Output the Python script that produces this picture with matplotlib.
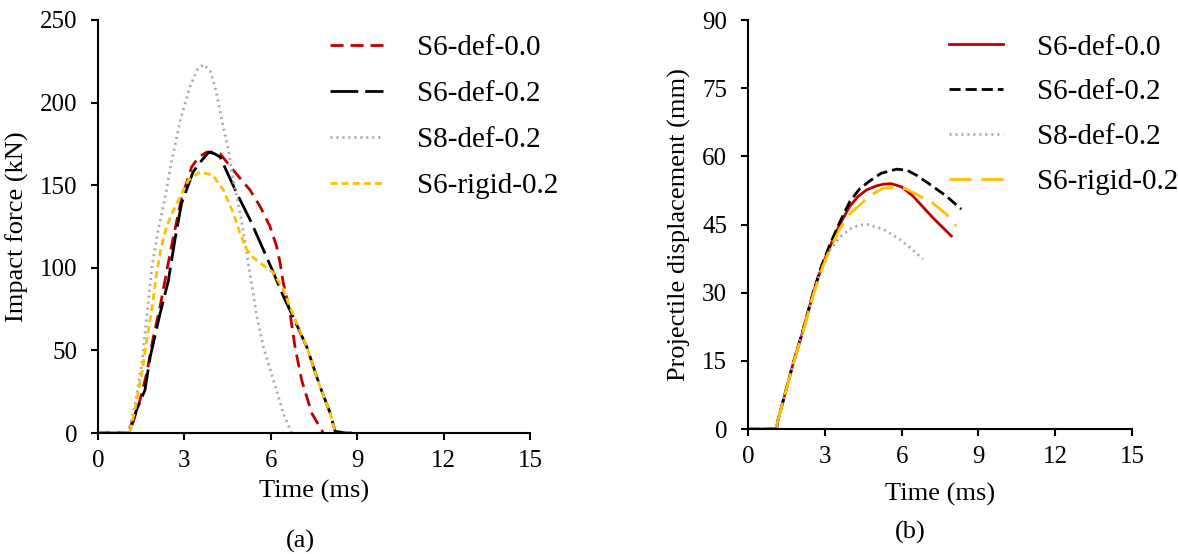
import numpy as np
import matplotlib
matplotlib.use("Agg")
import matplotlib.pyplot as plt

plt.rcParams['font.family'] = ['Liberation Serif', 'DejaVu Serif']
plt.rcParams['lines.scale_dashes'] = False

labels = ["S6-def-0.0", "S6-def-0.2", "S8-def-0.2", "S6-rigid-0.2"]

# (a) impact force: time (ms), force (kN)
t_f_s6_00 = [0, 1.1, 1.46, 1.69, 1.92, 2.15, 2.44, 2.62, 2.9, 3.25, 3.5, 3.77, 4.0, 4.24,
             4.7, 5.28, 5.63, 5.97, 6.2, 6.32, 6.43, 6.55, 6.67, 6.84, 7.07, 7.42, 7.82]
f_s6_00 = [0, 0, 20, 36, 58, 76, 103, 119, 142, 161, 167, 170, 170, 169,
           159, 147, 137, 125, 113, 103, 91, 82, 72, 52, 32, 12, 0]
t_f_s6_02 = [0, 1.05, 1.34, 1.63, 1.81, 2.15, 2.44, 2.67, 2.9, 3.3, 3.6, 3.85, 4.05, 4.24,
             4.82, 5.28, 5.74, 6.09, 6.43, 6.78, 7.25, 7.71, 8.06, 8.23, 8.6, 9.0]
f_s6_02 = [0, 0, 14, 26, 46, 72, 92, 117, 139, 158, 165, 170, 169, 167,
           145, 129, 111, 97, 83, 70, 52, 28, 12, 1, 0, 0]
t_f_s8_02 = [0, 1.05, 1.3, 1.52, 1.69, 1.86, 2.09, 2.3, 2.56, 2.88, 3.2, 3.45, 3.66, 3.9,
             4.1, 4.29, 4.53, 4.7, 4.99, 5.28, 5.51, 5.74, 6.09, 6.43, 6.72]
f_s8_02 = [0, 0, 18, 42, 70, 99, 123, 140, 165, 191, 210, 220, 223, 219,
           207, 190, 171, 153, 128, 96, 71, 52, 32, 12, 0]
t_f_rig = [0, 1.1, 1.28, 1.52, 1.69, 1.86, 2.04, 2.2, 2.4, 2.6, 2.85, 3.14, 3.54, 3.99,
           4.35, 4.7, 4.93, 5.16, 5.4, 5.63, 6.09, 6.43, 6.67, 7.25, 7.71, 8.06, 8.24]
f_rig = [0, 0, 14, 36, 56, 74, 97, 113, 126, 134, 143, 153, 158, 156,
         147, 133, 121, 111, 106, 103, 97, 87, 76, 52, 28, 12, 0]

# (b) projectile displacement: time (ms), displacement (mm)
t_d_s6_00 = [0, 1.12, 1.15, 1.76, 2.15, 2.54, 2.87, 3.19, 3.58, 3.97, 4.3, 4.62, 5.0, 5.3,
             5.6, 6.0, 6.44, 7.22, 7.94]
d_s6_00 = [0, 0, 1.5, 14.4, 21.7, 29.8, 35.6, 40.0, 45.0, 49.0, 51.2, 52.6, 53.5, 53.9,
           54.0, 53.3, 51.3, 46.5, 42.5]
t_d_s6_02 = [0, 1.12, 1.15, 1.76, 2.15, 2.54, 2.87, 3.19, 3.58, 3.97, 4.35, 4.75, 5.2, 5.8,
             6.2, 6.6, 7.09, 7.74, 8.33]
d_s6_02 = [0, 0, 1.5, 14.4, 21.8, 30.0, 35.9, 40.5, 45.5, 50.0, 52.8, 54.6, 56.3, 57.2,
           57.0, 55.8, 53.9, 51.3, 48.4]
t_d_s8_02 = [0, 1.12, 1.15, 1.76, 2.15, 2.54, 2.87, 3.19, 3.58, 3.97, 4.3, 4.62, 5.27,
             5.92, 6.4, 6.83]
d_s8_02 = [0, 0, 1.5, 14.4, 21.7, 29.6, 35.2, 39.3, 42.2, 44.0, 44.8, 45.1, 44.0,
           41.8, 39.6, 37.4]
t_d_rig = [0, 1.12, 1.15, 1.76, 2.15, 2.54, 2.87, 3.19, 3.58, 3.97, 4.36, 4.8, 5.27, 5.8,
           6.2, 6.57, 7.2, 7.74, 8.13]
d_rig = [0, 0, 1.5, 14.2, 21.4, 29.4, 35.0, 39.5, 44.0, 47.3, 49.3, 51.5, 53.0, 53.3,
         52.8, 51.7, 49.8, 47.3, 44.7]

RED = "#C00000"
GRAY = "#ABABAB"
YEL = "#FFC000"
LW = 2.0
DOTS = (1.5, 2.8)

fig = plt.figure(figsize=(11.78, 5.54), dpi=100)
ax1 = fig.add_axes([0.0832, 0.2184, 0.3668, 0.7456])
ax2 = fig.add_axes([0.635, 0.2256, 0.326, 0.738])

ax1.plot(t_f_s6_00, f_s6_00, color=RED, lw=LW, dashes=(9.4, 5), label=labels[0])
ax1.plot(t_f_s6_02, f_s6_02, color="black", lw=LW, dashes=(20, 5), label=labels[1])
ax1.plot(t_f_s8_02, f_s8_02, color=GRAY, lw=LW, dashes=DOTS, label=labels[2])
ax1.plot(t_f_rig, f_rig, color=YEL, lw=LW, dashes=(5, 3), label=labels[3])

ax2.plot(t_d_s6_00, d_s6_00, color=RED, lw=LW, label=labels[0])
ax2.plot(t_d_s6_02, d_s6_02, color="black", lw=LW, dashes=(8, 3.6), label=labels[1])
ax2.plot(t_d_s8_02, d_s8_02, color=GRAY, lw=LW, dashes=DOTS, label=labels[2])
ax2.plot(t_d_rig, d_rig, color=YEL, lw=LW, dashes=(16, 7), label=labels[3])

setup = [(ax1, 250, 50, "Impact force (kN)", (0.475, 1.027), 0.67, 6),
         (ax2, 90, 15, "Projectile displacement (mm)", (0.456, 1.03), 0.63, 11)]
for ax, ymax, ystep, ylabel, anchor, lsp, xlpad in setup:
    ax.set_xlim(0, 15)
    ax.set_ylim(0, ymax)
    ax.set_xticks(np.arange(0, 16, 3))
    ax.set_yticks(np.arange(0, ymax + 1, ystep))
    ax.spines['top'].set_visible(False)
    ax.spines['right'].set_visible(False)
    ax.spines['left'].set_linewidth(1.5)
    ax.spines['bottom'].set_linewidth(1.5)
    ax.tick_params(direction='out', length=5, width=1.5, labelsize=18)
    ax.tick_params(axis='y', pad=10)
    ax.tick_params(axis='x', pad=7)
    ax.set_xlabel("Time (ms)", fontsize=19, labelpad=xlpad)
    ax.set_ylabel(ylabel, fontsize=19, labelpad=8)
    ax.legend(loc="upper left", bbox_to_anchor=anchor, frameon=False, fontsize=21,
              handlelength=1.85, handletextpad=1.15, labelspacing=lsp)

fig.text(0.255, 0.011, "(a)", fontsize=19, ha="center")
fig.text(0.773, 0.028, "(b)", fontsize=19, ha="center")

fig.savefig("out.png", dpi=100)
